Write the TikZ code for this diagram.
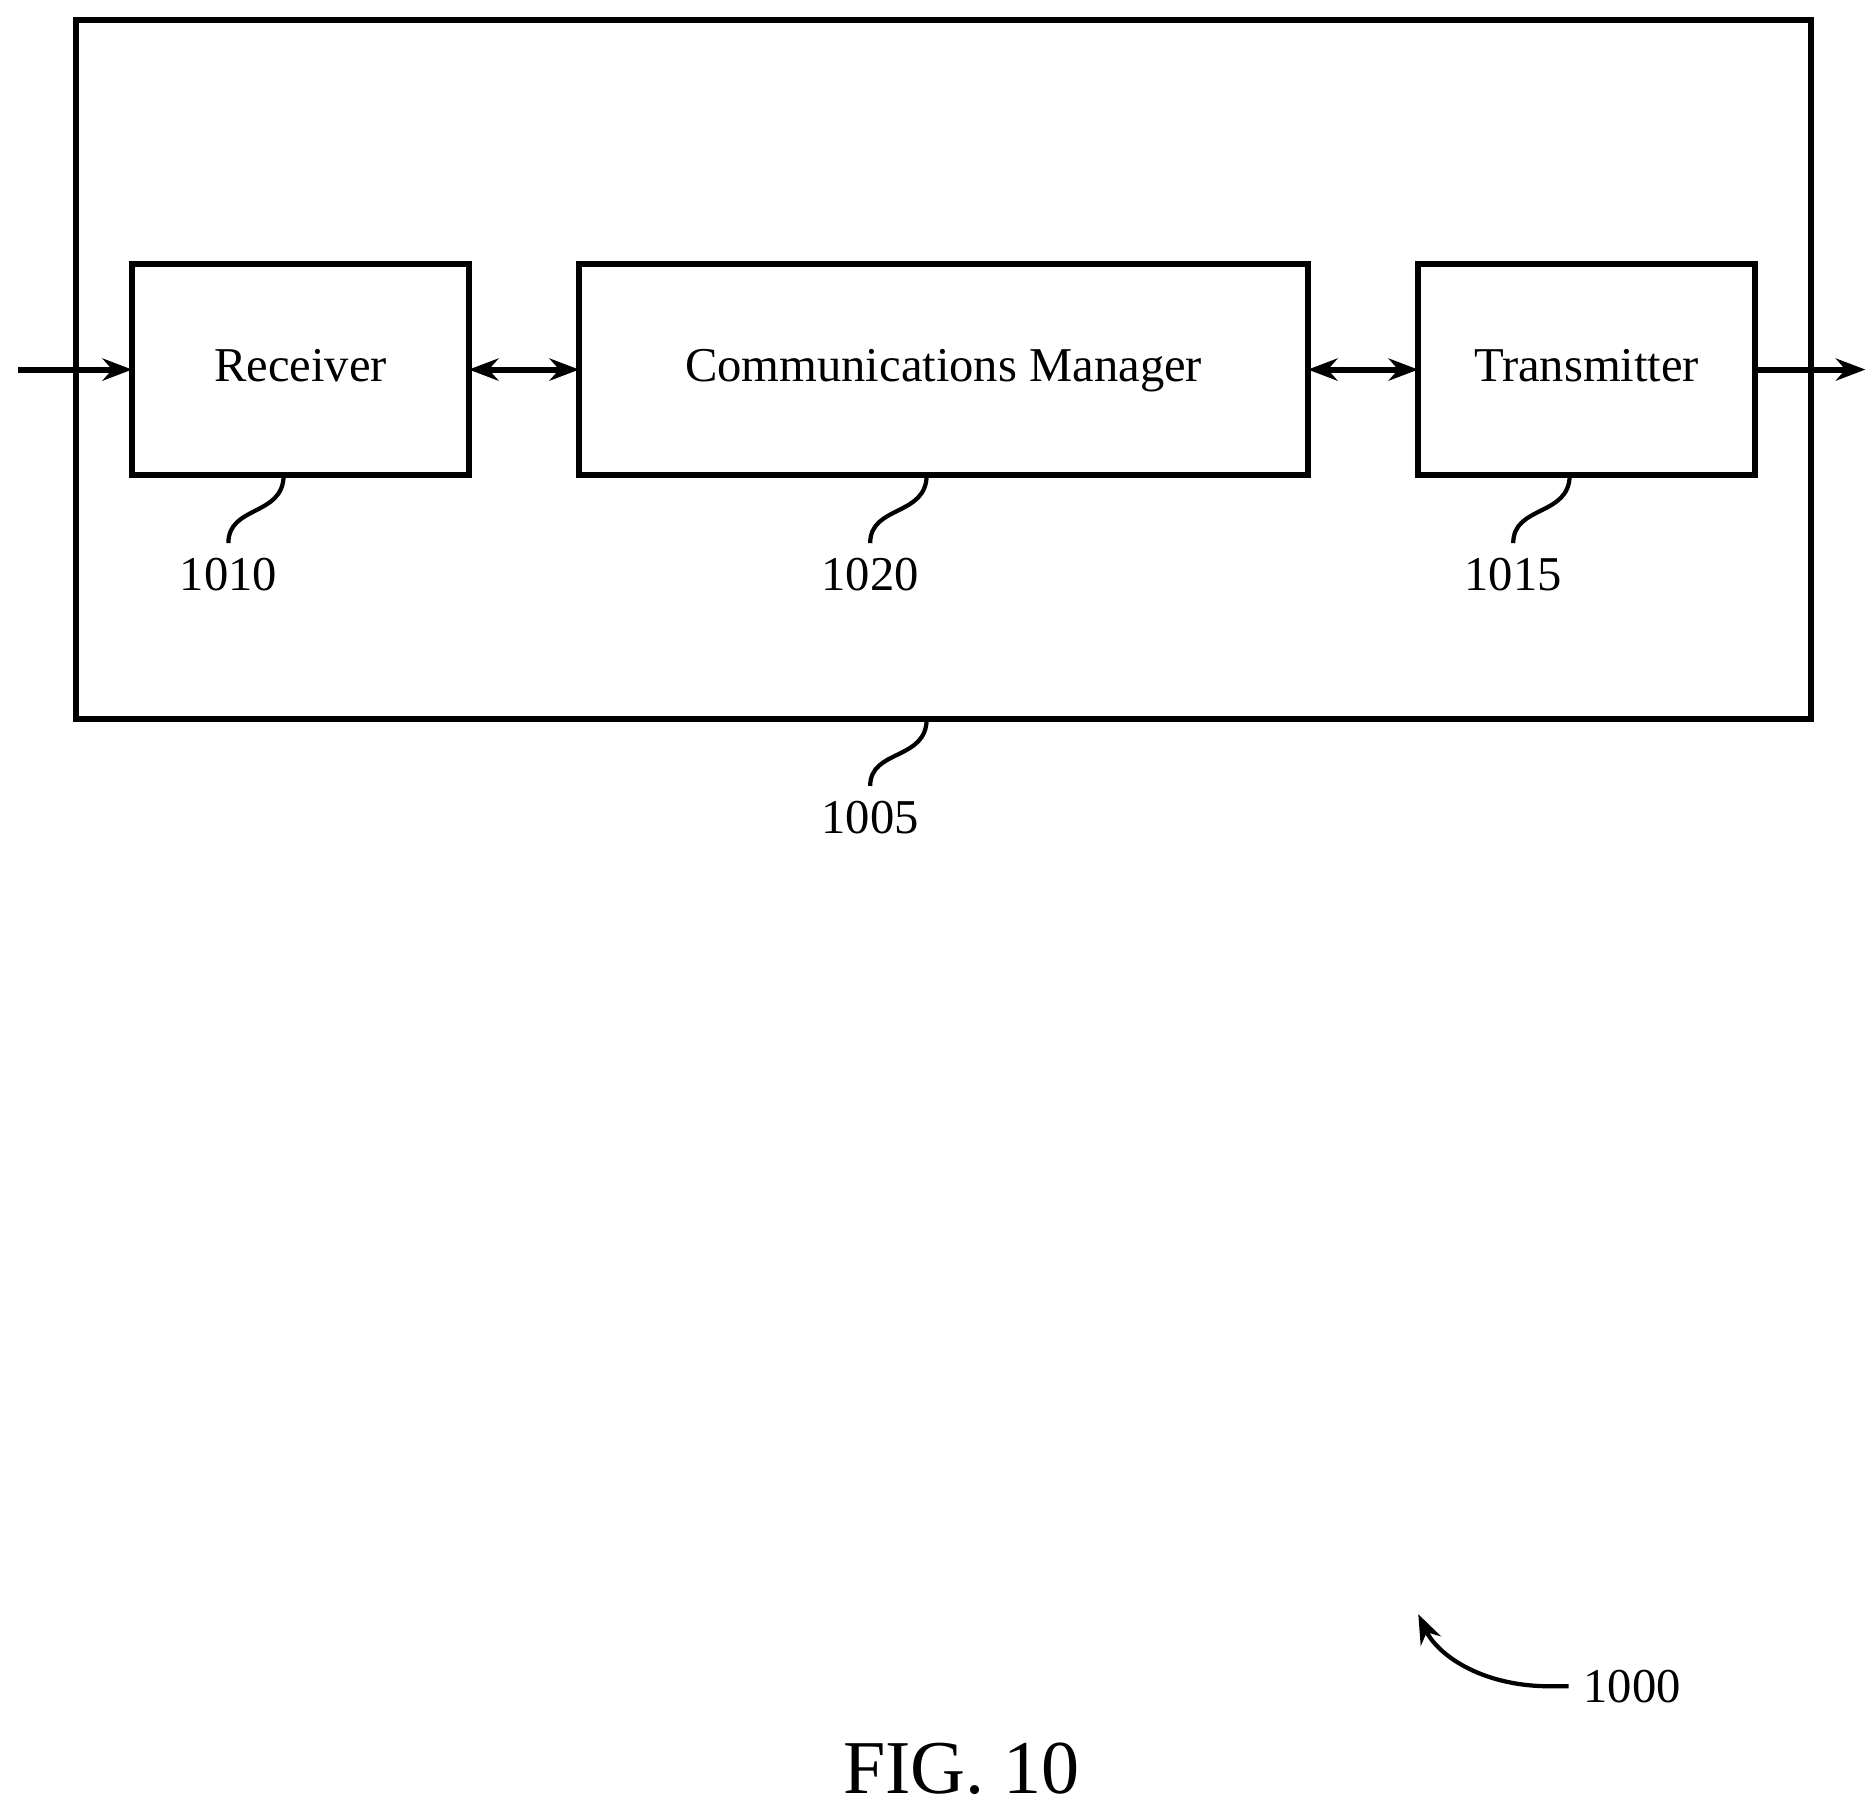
\documentclass[tikz,border=0pt]{standalone}
\usepackage{fontspec}
\setmainfont{Liberation Serif}
\usetikzlibrary{positioning,arrows.meta}

\begin{document}
\begin{tikzpicture}[
	x=0.01cm, y=-0.01cm,
	block/.style={draw, line width=1.4pt, inner sep=0pt, outer sep=0pt,
		text height=1.6ex, text depth=0.4ex, font=\fontsize{11.5}{14}\selectfont},
	link/.style={line width=1.4pt, {Stealth[length=7pt]}-{Stealth[length=7pt]}},
	flow/.style={line width=1.4pt, -{Stealth[length=7pt]}},
	lead/.style={line width=1pt},
	ref/.style={font=\fontsize{11.5}{14}\selectfont},
	]
	\useasboundingbox (0,0) rectangle (1560,1507);
	% device box
	\draw [line width=1.4pt] (63,17) rectangle (1507,598);
	\node [block, minimum width=2.8cm, minimum height=1.75cm] (rx) at (250,307.5) {Receiver};
	\node [block, minimum width=6.06cm, minimum height=1.75cm] (cm) at (785,307.5) {Communications Manager};
	\node [block, minimum width=2.8cm, minimum height=1.75cm] (tx) at (1320,307.5) {Transmitter};
	\coordinate (in) at (15,307.5);
	\coordinate (out) at (1552,307.5);
	% connectors
	\draw [flow] (in) -- (rx);
	\draw [link] (rx) -- (cm);
	\draw [link] (cm) -- (tx);
	\draw [flow] (tx) -- (out);
	% reference numerals
	\node [ref] (n1010) at (190,478) {1010};
	\node [ref] (n1020) at (724,478) {1020};
	\node [ref] (n1015) at (1259,478) {1015};
	\node [ref] (n1005) at (724,680) {1005};
	\draw [lead] (236,395) .. controls (236,430) and (190,420) .. (n1010.north);
	\draw [lead] (771,395) .. controls (771,430) and (724,420) .. (n1020.north);
	\draw [lead] (1306,395) .. controls (1306,430) and (1259,420) .. (n1015.north);
	\draw [lead] (771,598) .. controls (771,633) and (724,623) .. (n1005.north);
	\node [ref, anchor=west] (n1000) at (1305,1403) {1000};
	\draw [lead, -{Stealth[length=7pt]}] (n1000.west) -- (1290,1403) .. controls (1230,1403) and (1195,1375) .. (1180,1343);
	\node [font=\fontsize{18}{21}\selectfont] (fig) at (800,1472) {FIG. 10};
\end{tikzpicture}
\end{document}
